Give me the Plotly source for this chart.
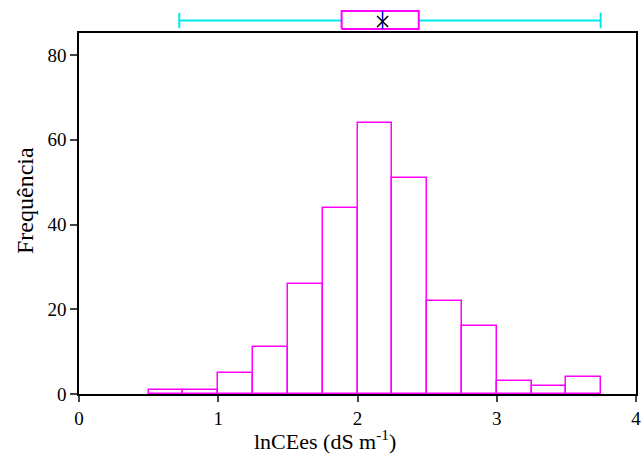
import plotly.graph_objects as go

# Histogram data
bin_left = [0.5, 0.75, 1.0, 1.25, 1.5, 1.75, 2.0, 2.25, 2.5, 2.75, 3.0, 3.25, 3.5]
counts = [1, 1, 5, 11, 26, 44, 64, 51, 22, 16, 3, 2, 4]
bin_width = 0.25

# Box plot summary
lower_fence = 0.72
q1 = 1.886
median = 2.18
q3 = 2.44
upper_fence = 3.746
mean = 2.18

x_ticks = [0, 1, 2, 3, 4]
y_ticks = [0, 20, 40, 60, 80]

centers = [b + bin_width / 2 for b in bin_left]

font_family = "Liberation Serif"
cyan = "#00e8f0"
fig = go.Figure()

fig.add_trace(go.Bar(
    x=centers, y=counts, width=bin_width,
    marker=dict(color="white", line=dict(color="#ff00ff", width=1.5)),
    xaxis="x", yaxis="y", showlegend=False, hoverinfo="x+y",
))

# box strip geometry (in pixel-like units of the top strip axis)
yc, ylo, yhi = 12.5, 4, 22

# whiskers
fig.add_trace(go.Scatter(
    x=[lower_fence, q1, None, q3, upper_fence], y=[yc, yc, None, yc, yc],
    mode="lines", line=dict(color=cyan, width=2),
    xaxis="x", yaxis="y2", showlegend=False,
))
fig.add_trace(go.Scatter(
    x=[lower_fence, upper_fence], y=[yc, yc], mode="markers",
    marker=dict(symbol="line-ns-open", size=11, color=cyan, line=dict(color=cyan, width=2)),
    xaxis="x", yaxis="y2", showlegend=False,
))
# box
fig.add_trace(go.Scatter(
    x=[q1, q3, q3, q1, q1], y=[ylo, ylo, yhi, yhi, ylo],
    mode="lines", fill="toself", fillcolor="white",
    line=dict(color="#ff00ff", width=2),
    xaxis="x", yaxis="y2", showlegend=False,
))
# median line
fig.add_trace(go.Scatter(
    x=[median, median], y=[ylo, yhi], mode="lines",
    line=dict(color="#0000cc", width=1.5),
    xaxis="x", yaxis="y2", showlegend=False,
))
# mean
fig.add_trace(go.Scatter(
    x=[mean], y=[yc - 1], mode="markers",
    marker=dict(symbol="x-thin-open", size=11, color="black", line=dict(color="black", width=1.5)),
    xaxis="x", yaxis="y2", showlegend=False,
))

fig.update_layout(
    width=644, height=457,
    margin=dict(l=79, r=8, t=0, b=63),
    paper_bgcolor="white", plot_bgcolor="white",
    font=dict(family=font_family, size=19, color="black"),
    xaxis=dict(
        range=[0, 4], tickvals=x_ticks, ticks="outside", ticklen=6, tickwidth=1.5,
        showline=True, linecolor="black", linewidth=1.5, mirror=True,
        showgrid=False, zeroline=False, anchor="y",
    ),
    yaxis=dict(
        domain=[0, 0.9162], range=[0, 85.19], tickvals=y_ticks,
        ticks="outside", ticklen=7, tickwidth=1.5,
        showline=True, linecolor="black", linewidth=1.5, mirror=True,
        showgrid=False, zeroline=False,
    ),
    yaxis2=dict(
        domain=[0.9162, 1], range=[0, 33], visible=False, anchor="x",
    ),
    bargap=0,
    annotations=[
        dict(text="lnCEes (dS m<sup>-1</sup>)", xref="paper", yref="paper",
             x=(325 - 79) / 557, y=-(440 - 394) / 394, xanchor="center", yanchor="middle",
             showarrow=False, font=dict(size=22)),
        dict(text="Frequência", xref="paper", yref="paper",
             x=-(79 - 25) / 557, y=(394 - 201) / 394, xanchor="center", yanchor="middle",
             textangle=-90, showarrow=False, font=dict(size=24)),
    ],
)

fig.write_html("out.html", config={"displayModeBar": False},
               post_script="document.body.style.margin='0px';")
